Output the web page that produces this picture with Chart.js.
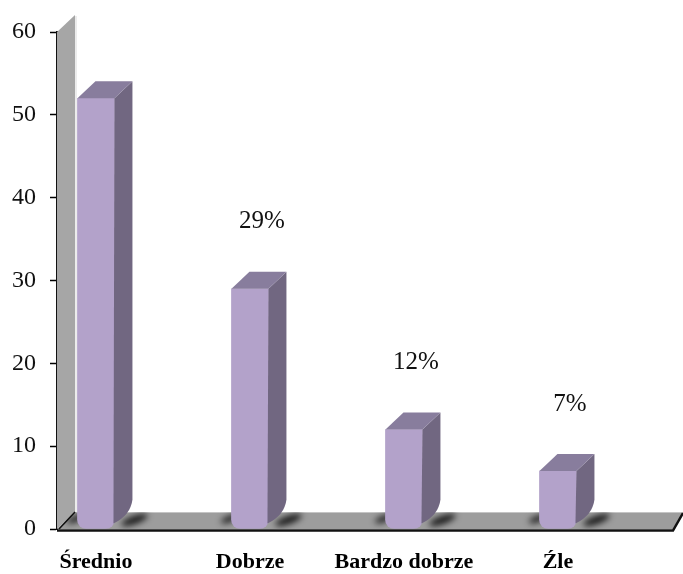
<!DOCTYPE html>
<html>
<head>
<meta charset="utf-8">
<script src="https://cdn.jsdelivr.net/npm/chart.js@4.4.1/dist/chart.umd.min.js"></script>
<style>
  html, body { margin: 0; padding: 0; background: #fff; }
</style>
</head>
<body>
<canvas id="chartOcena" width="683" height="574"></canvas>
<script>
var categories = ['Średnio', 'Dobrze', 'Bardzo dobrze', 'Źle'];
var values = [52, 29, 12, 7];
var percentLabels = [null, '29%', '12%', '7%'];
var yTicks = [0, 10, 20, 30, 40, 50, 60];

var depthX = 18, depthY = -17;

// grey back wall + floor, drawn under the bars
var box3d = {
	id: 'box3d',
	beforeDatasetsDraw(chart) {
		var ctx = chart.ctx, a = chart.chartArea;
		var L = a.left, B = a.bottom, T = a.top;
		ctx.save();
		// wall
		ctx.beginPath();
		ctx.moveTo(L, T);
		ctx.lineTo(L + depthX, T + depthY);
		ctx.lineTo(L + depthX, B + depthY);
		ctx.lineTo(L, B);
		ctx.closePath();
		ctx.fillStyle = '#a6a6a6';
		ctx.fill();
		ctx.strokeStyle = '#e6e6e6';
		ctx.lineWidth = 1.5;
		ctx.beginPath();
		ctx.moveTo(L + depthX + 1, T + depthY + 1);
		ctx.lineTo(L + depthX + 1, B + depthY);
		ctx.stroke();
		// floor
		var R = a.right;
		ctx.beginPath();
		ctx.moveTo(L + depthX, B + depthY);
		ctx.lineTo(R + depthX - 8, B + depthY);
		ctx.lineTo(R, B);
		ctx.lineTo(L, B);
		ctx.closePath();
		ctx.fillStyle = '#9d9d9d';
		ctx.fill();
		ctx.strokeStyle = '#c4c4c4';
		ctx.lineWidth = 1;
		ctx.beginPath();
		ctx.moveTo(L + depthX, B + depthY + 0.5);
		ctx.lineTo(R + depthX - 8, B + depthY + 0.5);
		ctx.stroke();
		ctx.strokeStyle = '#111';
		ctx.lineWidth = 2.5;
		ctx.beginPath();
		ctx.moveTo(L, B + 1.5);
		ctx.lineTo(R, B + 1.5);
		ctx.lineTo(R + depthX - 8, B + depthY + 1);
		ctx.stroke();
		ctx.lineWidth = 1.5;
		ctx.beginPath();
		ctx.moveTo(L + 2, B);
		ctx.lineTo(L + depthX, B + depthY);
		ctx.stroke();

		// soft shadows on the floor
		var meta = chart.getDatasetMeta(0);
		ctx.beginPath();
		ctx.moveTo(L + depthX, B + depthY);
		ctx.lineTo(R + depthX - 8, B + depthY);
		ctx.lineTo(R, B);
		ctx.lineTo(L, B);
		ctx.closePath();
		ctx.clip();
		ctx.filter = 'blur(3px)';
		ctx.fillStyle = 'rgba(0,0,0,0.85)';
		meta.data.forEach(function(bar) {
			var hw = bar.width / 2;
			ctx.beginPath();
			ctx.ellipse(bar.x + hw + 20, B - 9, 14, 4, -0.35, 0, Math.PI * 2);
			ctx.fill();
			ctx.beginPath();
			ctx.ellipse(bar.x - hw - 2, B - 10, 9, 3, -0.35, 0, Math.PI * 2);
			ctx.fill();
		});
		ctx.restore();
	},
	afterDatasetsDraw(chart) {
		var ctx = chart.ctx;
		var meta = chart.getDatasetMeta(0);
		ctx.save();
		meta.data.forEach(function(bar, i) {
			var hw = bar.width / 2;
			var l = bar.x - hw, r = bar.x + hw, t = bar.y, b = bar.base;
			// side
			ctx.beginPath();
			ctx.moveTo(r, t);
			ctx.lineTo(r + depthX, t + depthY);
			ctx.lineTo(r + depthX, b + depthY - 12);
			ctx.quadraticCurveTo(r + depthX - 2, b + depthY + 4, r - 1, b - 5);
			ctx.closePath();
			ctx.fillStyle = '#716781';
			ctx.fill();
			// top
			ctx.beginPath();
			ctx.moveTo(l, t);
			ctx.lineTo(l + depthX, t + depthY);
			ctx.lineTo(r + depthX, t + depthY);
			ctx.lineTo(r, t);
			ctx.closePath();
			ctx.fillStyle = '#887d9d';
			ctx.fill();
			// percent label
			if (percentLabels[i]) {
				ctx.fillStyle = '#111';
				ctx.font = '25px "Liberation Serif"';
				ctx.textAlign = 'center';
				ctx.textBaseline = 'middle';
				ctx.fillText(percentLabels[i], bar.x + 12, t - 67);
			}
		});
		// category names under the floor
		var xs = chart.scales.x;
		ctx.fillStyle = '#000';
		ctx.font = 'bold 22px "Liberation Serif"';
		ctx.textAlign = 'center';
		ctx.textBaseline = 'middle';
		categories.forEach(function(c, i) {
			ctx.fillText(c, xs.getPixelForValue(i), chart.chartArea.bottom + 33);
		});
		ctx.restore();
	}
};

var ctxOcena = document.getElementById('chartOcena');
var chartOcena = new Chart(ctxOcena, {
	type: 'bar',
	data: {
		datasets: [{
			data: categories.map((c, i) => ({ x: i, y: values[i] })),
			backgroundColor: '#b3a2ca',
			borderWidth: 0,
			borderSkipped: false,
			borderRadius: { topLeft: 0, topRight: 0, bottomLeft: 9, bottomRight: 9 },
			barThickness: 37
		}]
	},
	options: {
		responsive: false,
		animation: false,
		layout: { padding: { top: 32, right: 10, bottom: 45, left: 0 } },
		plugins: { legend: { display: false }, tooltip: { enabled: false } },
		scales: {
			x: {
				type: 'linear',
				min: -0.253,
				max: 3.747,
				offset: false,
				display: false
			},
			y: {
				min: 0,
				max: 60,
				z: 1,
				afterFit: function(s) { s.width = 57; },
				afterBuildTicks: function(s) { s.ticks = yTicks.map(v => ({ value: v })); },
				ticks: {
					padding: 14,
					color: '#111',
					font: { family: '"Liberation Serif"', size: 24 }
				},
				grid: { drawOnChartArea: false, tickLength: 7, color: '#000', tickWidth: 1.5 },
				border: { color: '#111', width: 2 }
			}
		}
	},
	plugins: [box3d]
});
</script>
</body>
</html>
